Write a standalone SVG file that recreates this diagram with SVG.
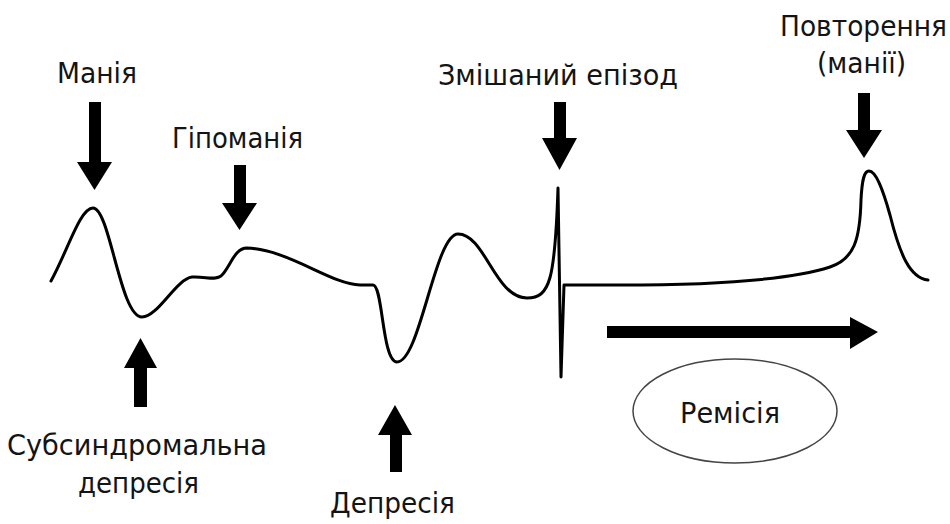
<svg xmlns="http://www.w3.org/2000/svg" width="950" height="524" viewBox="0 0 950 524">
<style>
text{font-family:"Liberation Sans Narrow","DejaVu Sans Condensed","Liberation Sans",sans-serif;font-size:28px;fill:#141414}
.curve{fill:none;stroke:#000;stroke-width:3;stroke-linejoin:round;stroke-linecap:round}
.arr{fill:#000}
</style>
<rect width="950" height="524" fill="#fff"/>
<g id="curve">
<path class="curve" d="M51,281 C68,250 80,208 93,208 C110,208 120,317 142,317 C158,317 176,279 192,277 C205,276 214,281 221,276 C230,268 234,248 247,248 C290,250 330,284 360,285 L373,285 C383,285 382,362 397,362 C420,362 435,234 458,234 C485,234 495,298 527,298 C550,298 555,280 558,188 L561,377 L564,285 L620,285 C710,285 790,280 830,267 C854,259 860,240 861,200 C862,180 864,171 869,171 C876,171 883,190 890,215 C900,255 910,278 928,280"/>
</g>
<g id="mania">
<text x="57" y="83" textLength="80" lengthAdjust="spacingAndGlyphs">Манія</text>
<polygon class="arr" points="89,102 101,102 101,162 112,162 94.5,190 77,162 89,162"/>
</g>
<g id="hypomania">
<text x="172" y="148" textLength="131" lengthAdjust="spacingAndGlyphs">Гіпоманія</text>
<polygon class="arr" points="234,165 246,165 246,203 257,203 239.5,230 222,203 234,203"/>
</g>
<g id="mixed">
<text x="438" y="85" textLength="240" lengthAdjust="spacingAndGlyphs">Змішаний епізод</text>
<polygon class="arr" points="554,102 566,102 566,138 577,138 559.5,170 542,138 554,138"/>
</g>
<g id="relapse">
<text x="780" y="36" textLength="167" lengthAdjust="spacingAndGlyphs">Повторення</text>
<text x="817" y="73" textLength="89" lengthAdjust="spacingAndGlyphs">(манії)</text>
<polygon class="arr" points="858,93 870,93 870,130 882,130 864,158 846,130 858,130"/>
</g>
<g id="subsyndromal">
<polygon class="arr" points="140.5,338 157,368 147,368 147,407 134,407 134,368 124,368"/>
<text x="7" y="455" textLength="260" lengthAdjust="spacingAndGlyphs">Субсиндромальна</text>
<text x="78" y="493" textLength="121" lengthAdjust="spacingAndGlyphs">депресія</text>
</g>
<g id="depression">
<polygon class="arr" points="395,405 412,435 402,435 402,472 390,472 390,435 378,435"/>
<text x="330" y="513" textLength="125" lengthAdjust="spacingAndGlyphs">Депресія</text>
</g>
<g id="remission">
<polygon class="arr" points="607,326 850,326 850,317 878,332 850,349 850,338 607,338"/>
<ellipse cx="735" cy="411" rx="102" ry="52" fill="#fff" stroke="#444" stroke-width="1.5"/>
<text x="680" y="423" textLength="100" lengthAdjust="spacingAndGlyphs">Ремісія</text>
</g>
</svg>
